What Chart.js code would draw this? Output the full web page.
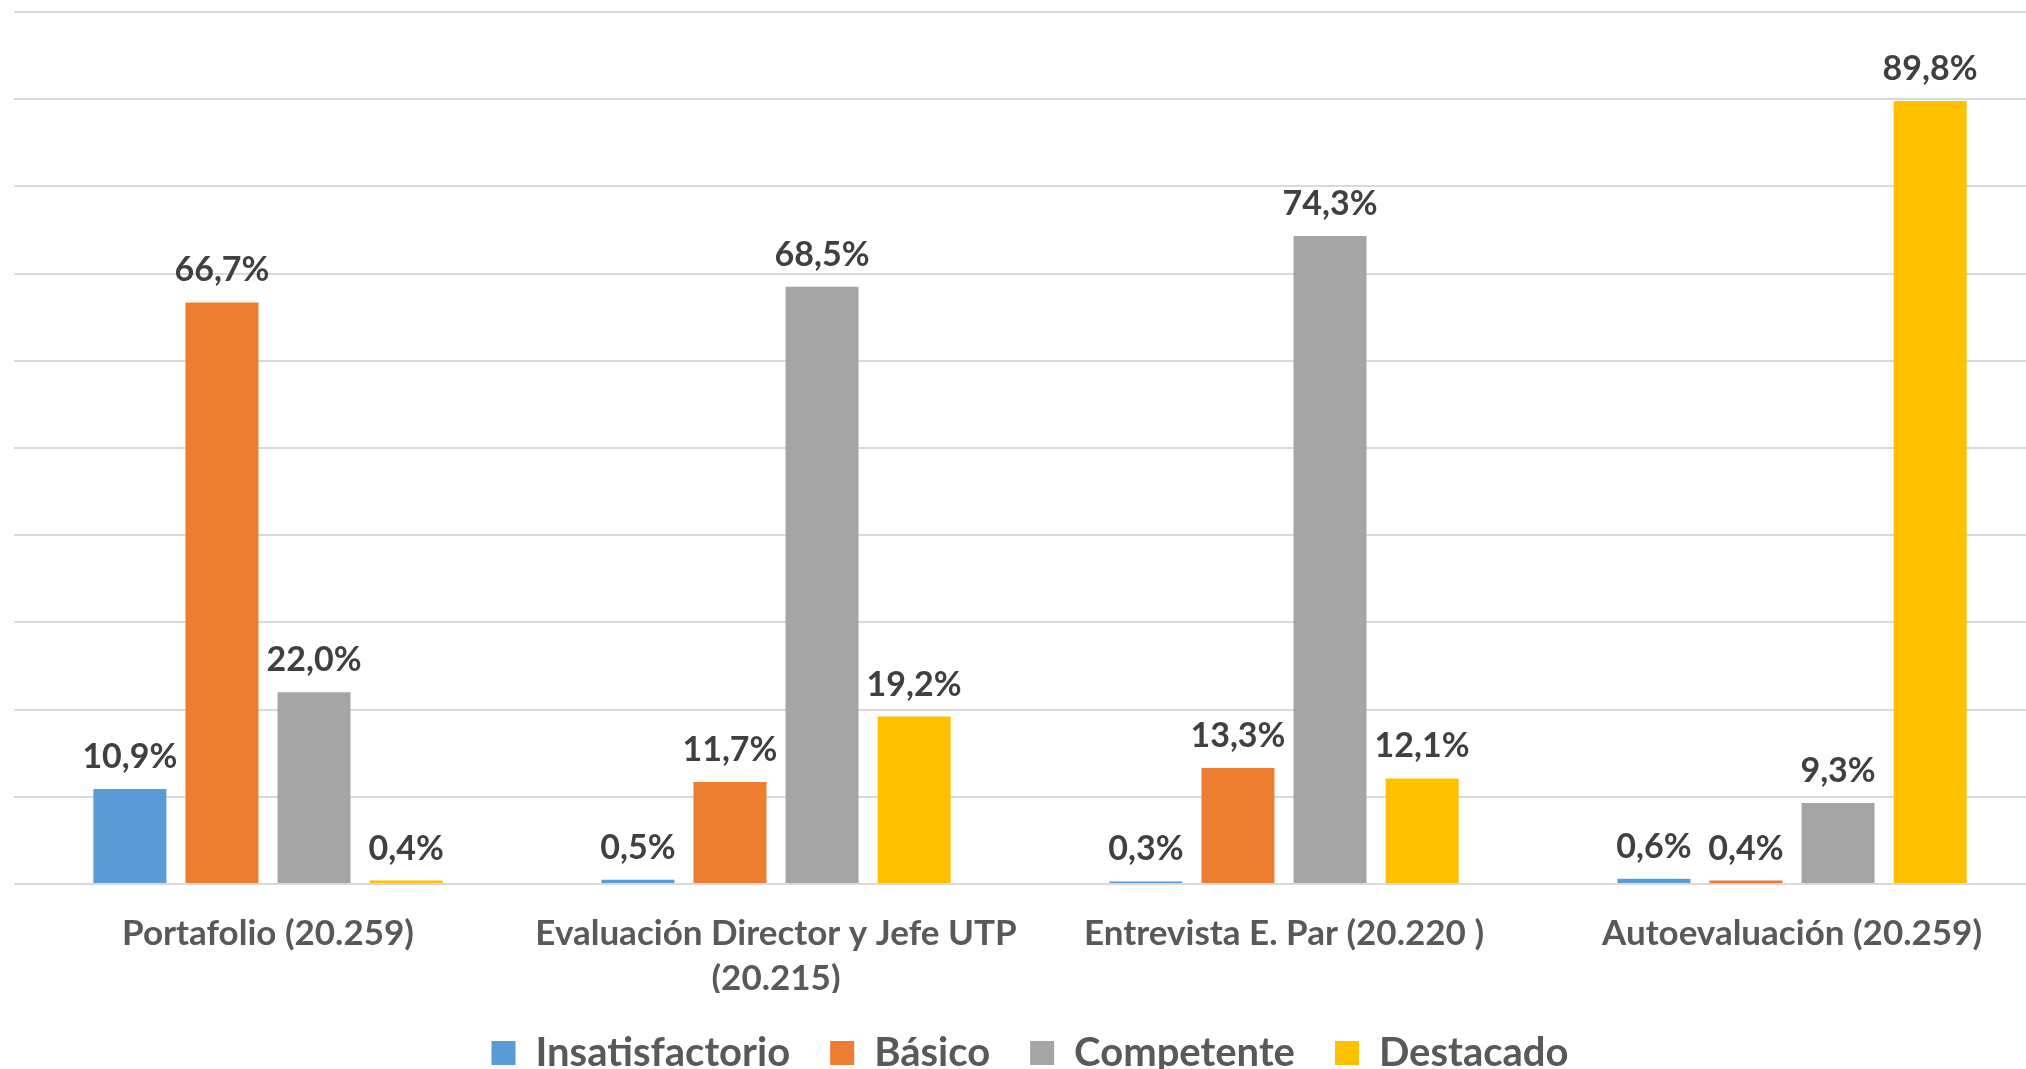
<!DOCTYPE html>
<html>
<head>
<meta charset="utf-8">
<script src="https://cdn.jsdelivr.net/npm/chart.js@4"></script>
<style>
  html, body { margin: 0; padding: 0; background: #fff; overflow: hidden; }
  #wrap { width: 2046px; height: 1083px; }
</style>
</head>
<body>
<div id="wrap"><canvas id="myChart"></canvas></div>
<script>
// categories and series (percent)
const categories = [
  'Portafolio (20.259)',
  ['Evaluación Director y Jefe UTP', '(20.215)'],
  'Entrevista E. Par (20.220 )',
  'Autoevaluación (20.259)'
];
const insatisfactorio = [10.9, 0.5, 0.3, 0.6];
const basico = [66.7, 11.7, 13.3, 0.4];
const competente = [22.0, 68.5, 74.3, 9.3];
const destacado = [0.4, 19.2, 12.1, 89.8];

const fontFamily = 'Lato, "Open Sans", sans-serif';

// draws the value above every bar, e.g. "66,7%"
const valueLabels = {
  id: 'valueLabels',
  afterDatasetsDraw(chart) {
    const ctx = chart.ctx;
    ctx.save();
    ctx.font = 'bold 34px ' + fontFamily;
    ctx.fillStyle = '#404040';
    ctx.textAlign = 'center';
    ctx.textBaseline = 'alphabetic';
    chart.data.datasets.forEach((ds, i) => {
      chart.getDatasetMeta(i).data.forEach((bar, j) => {
        const txt = ds.data[j].toFixed(1).replace('.', ',') + '%';
        ctx.fillText(txt, bar.x, bar.y - 21);
      });
    });
    ctx.restore();
  }
};

const ctx = document.getElementById('myChart');

new Chart(ctx, {
  type: 'bar',
  data: {
    labels: categories,
    datasets: [
      { label: 'Insatisfactorio', data: insatisfactorio, backgroundColor: '#5B9BD5' },
      { label: 'Básico', data: basico, backgroundColor: '#ED7D31' },
      { label: 'Competente', data: competente, backgroundColor: '#A5A5A5' },
      { label: 'Destacado', data: destacado, backgroundColor: '#FFC000' }
    ]
  },
  options: {
    responsive: true,
    maintainAspectRatio: false,
    animation: false,
    categoryPercentage: 0.725,
    barPercentage: 0.793,
    layout: { padding: { top: 12, left: 14, right: 0, bottom: 0 } },
    scales: {
      x: {
        grid: { display: false },
        border: { display: false },
        ticks: {
          color: '#595959',
          font: { family: fontFamily, size: 35, weight: 'bold', lineHeight: 1.29 },
          padding: 19,
          maxRotation: 0,
          autoSkip: false
        },
        afterFit(scale) { scale.height = 109; }
      },
      y: {
        min: 0,
        max: 100,
        ticks: { display: false, stepSize: 10 },
        grid: { color: '#D9D9D9', lineWidth: 2, drawTicks: false },
        border: { display: false }
      }
    },
    plugins: {
      tooltip: { enabled: false },
      legend: {
        position: 'bottom',
        labels: {
          color: '#595959',
          font: { family: fontFamily, size: 40, weight: 'bold' },
          boxWidth: 24,
          boxHeight: 24,
          padding: 40
        }
      }
    }
  },
  plugins: [valueLabels]
});
</script>
</body>
</html>
